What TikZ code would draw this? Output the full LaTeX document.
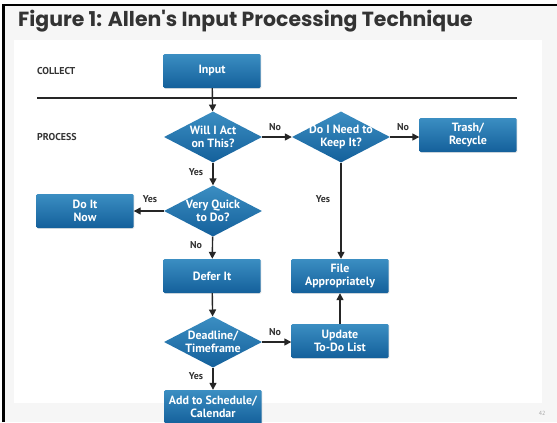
\documentclass[tikz,border=0pt]{standalone}
\usepackage{fontspec}
\setmainfont{PT Sans}
\newfontfamily\titlefont{Poppins}
\usetikzlibrary{shapes.geometric,arrows.meta,shadows}

\definecolor{boxtop}{HTML}{3B8EC2}
\definecolor{boxbot}{HTML}{14609B}
\definecolor{inkgray}{HTML}{333333}
\definecolor{panelgray}{HTML}{F6F6F6}

\begin{document}
\begin{tikzpicture}[x=1bp,y=-1bp,
    stepbox/.style={rectangle, rounded corners=1.2bp, top color=boxtop, bottom color=boxbot,
        minimum width=97bp, minimum height=34bp, inner sep=1bp, align=center, text=white,
        font=\bfseries\fontsize{12}{13}\selectfont,
        drop shadow={opacity=0.2, shadow xshift=0.8bp, shadow yshift=-0.8bp}},
    choice/.style={diamond, top color=boxtop, bottom color=boxbot, aspect=1.9,
        minimum width=98bp, minimum height=51bp, inner sep=-4bp, align=center, text=white,
        font=\bfseries\fontsize{12}{13}\selectfont},
    tag/.style={text=inkgray, font=\bfseries\fontsize{10}{11}\selectfont, inner sep=0pt},
    link/.style={draw=black!85, line width=1.4bp, -{Triangle[length=7bp,width=7bp]}}]
    \useasboundingbox (0,0) rectangle (557,422);

    % slide frame and panel
    \fill[panelgray] (4,6) rectangle (557,422);
    \fill[white] (14,40) rectangle (542,403);
    \draw[line width=2.2bp] (3.5,422) -- (3.5,5) -- (557,5);
    \node[anchor=base west, text=inkgray, font=\titlefont\bfseries\fontsize{20.5}{24}\selectfont, inner sep=0pt]
        (title) at (18,26) {Figure 1: Allen's Input Processing Technique};
    \node[text=black!35, font=\fontsize{6}{7}\selectfont] (pageno) at (542,413) {42};

    % stages
    \node[tag, anchor=west] (collect) at (37,71) {COLLECT};
    \node[tag, anchor=west] (process) at (37,137) {PROCESS};
    \coordinate (ruleL) at (37,98);
    \coordinate (ruleR) at (517,98);
    \draw[line width=1.6bp, black!85] (ruleL) -- (ruleR);

    % boxes and decisions
    \node[stepbox] (input) at (212,71) {Input};
    \node[choice] (act) at (213,137) {Will I Act\\on This?};
    \node[choice] (keep) at (341,137) {Do I Need to\\Keep It?};
    \node[stepbox] (trash) at (468,135) {Trash/\\Recycle};
    \node[choice] (quick) at (213,211) {Very Quick\\to Do?};
    \node[stepbox] (now) at (85,211) {Do It\\Now};
    \node[stepbox] (defer) at (212,276) {Defer It};
    \node[stepbox] (file) at (340,276) {File\\Appropriately};
    \node[choice] (deadline) at (213,342) {Deadline/\\Timeframe};
    \node[stepbox] (update) at (340,341) {Update\\To-Do List};
    \node[stepbox] (sched) at (213,407) {Add to Schedule/\\Calendar};

    % connectors
    \draw[link] (input) -- (act);
    \draw[link] (act) -- (keep);
    \draw[link] (keep) -- (trash.west |- keep);
    \draw[link] (act) -- (quick);
    \draw[link] (quick) -- (now);
    \draw[link] (quick) -- (defer);
    \draw[link] (keep.south) -- (keep.south |- file.north);
    \draw[link] (defer) -- (deadline);
    \draw[link] (deadline) -- (update.west |- deadline);
    \draw[link] (update.north -| file) -- (file);
    \draw[link] (deadline) -- (sched);

    % answers
    \node[tag] (no1) at (275,127) {No};
    \node[tag] (no2) at (403,127) {No};
    \node[tag] (yes1) at (196,172) {Yes};
    \node[tag] (yes2) at (150,199) {Yes};
    \node[tag] (yes3) at (323,199) {Yes};
    \node[tag] (no3) at (196,245) {No};
    \node[tag] (no4) at (275,332) {No};
    \node[tag] (yes4) at (196,376) {Yes};
\end{tikzpicture}
\end{document}
